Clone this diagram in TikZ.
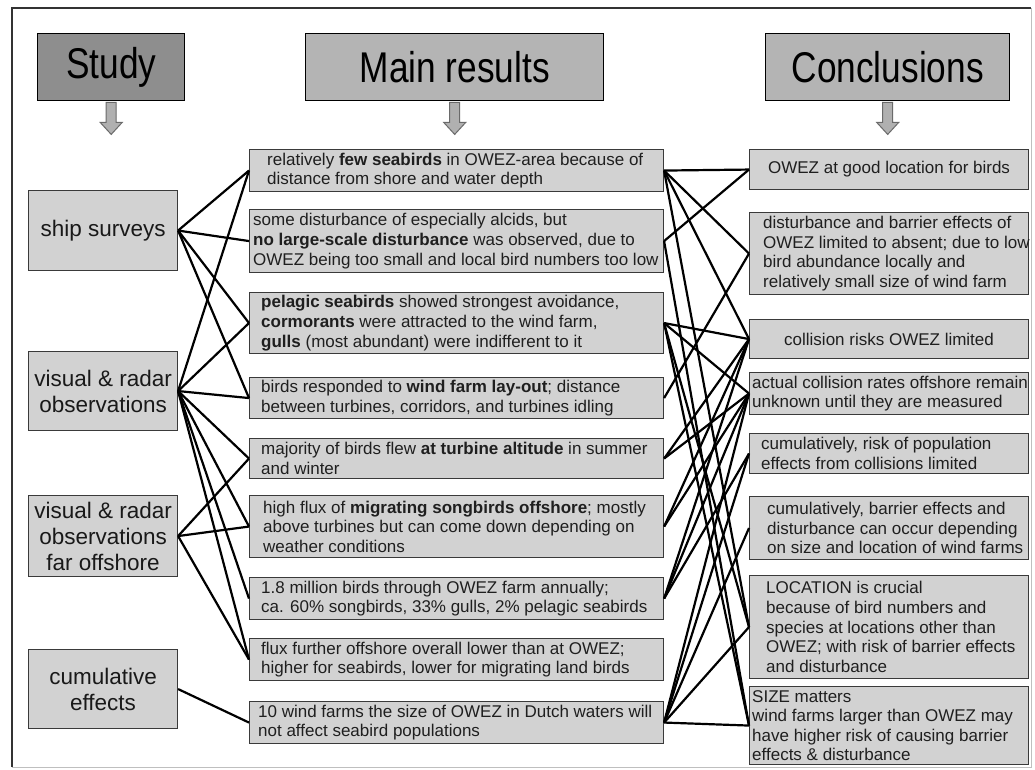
\documentclass[tikz,border=0pt]{standalone}
\usepackage{fontspec}
\usepackage{graphicx}
\setmainfont{Liberation Sans}
\definecolor{boxfill}{HTML}{D2D2D2}
\definecolor{boxline}{HTML}{3A3A3A}
\definecolor{hdark}{HTML}{8E8E8E}
\definecolor{hlight}{HTML}{B4B4B4}
\definecolor{arrfill}{HTML}{B0B0B0}
\definecolor{arrline}{HTML}{6A6A6A}
\begin{document}
\begin{tikzpicture}[x=1pt,y=-1pt,
  box/.style={draw=boxline, fill=boxfill, line width=1.1pt, inner sep=0pt, anchor=north west},
  hbox/.style={draw=black, line width=1.4pt, inner sep=0pt, anchor=north west},
  htxt/.style={inner sep=0pt, font=\fontsize{43}{48}\selectfont, text=black},
  ltxt/.style={inner sep=0pt, align=center, font=\fontsize{22.5}{26}\selectfont, text=black!90},
  mtxt/.style={inner sep=0pt, anchor=west, align=left, font=\fontsize{17}{19.6}\selectfont, text=black!88},
  ctxt/.style={inner sep=0pt, align=center, font=\fontsize{17}{19.6}\selectfont, text=black!88},
  link/.style={draw=black, line width=2.2pt},
  garrow/.style={draw=arrline, fill=arrfill, line width=1pt, line join=miter}
]
\useasboundingbox (0,0) rectangle (1035,769);
\fill[white] (0,0) rectangle (1035,769);
% frame
\draw[black!80, line width=1.5pt] (12,767) -- (12,8) -- (1031,8);
\draw[black!25, line width=1pt] (1031,8) -- (1031,767) -- (12,767);

% headers
\node[hbox, fill=hdark, minimum width=147pt, minimum height=67pt] (H1) at (37,33) {};
\node[hbox, fill=hlight, minimum width=298pt, minimum height=67pt] (H2) at (305,33) {};
\node[hbox, fill=hlight, minimum width=244pt, minimum height=67pt] (H3) at (765,33) {};
\node[htxt] (H1t) at (H1.center) {\scalebox{0.82}[1]{Study}};
\node[htxt] (H2t) at (H2.center) {\scalebox{0.82}[1]{Main results}};
\node[htxt] (H3t) at (H3.center) {\scalebox{0.82}[1]{Conclusions}};
\foreach \h in {H1,H2,H3}{
  \draw[garrow] (\h.south) ++(-5,1) -- ++(0,20) -- ++(-6,0) -- ++(11,12) -- ++(11,-12) -- ++(-6,0) -- ++(0,-20) -- cycle;
}

% left column
\node[box, minimum width=149pt, minimum height=80pt] (L1) at (28,190) {};
\node[box, minimum width=149pt, minimum height=79pt] (L2) at (28,351) {};
\node[box, minimum width=149pt, minimum height=81pt] (L3) at (28,495) {};
\node[box, minimum width=149pt, minimum height=79pt] (L4) at (28,649) {};
\node[ltxt] (L1t) at (L1.center) {ship surveys};
\node[ltxt] (L2t) at (L2.center) {visual \& radar\\observations};
\node[ltxt] (L3t) at (L3.center) {visual \& radar\\observations\\far offshore};
\node[ltxt] (L4t) at (L4.center) {cumulative\\effects};

% middle column
\node[box, minimum width=414pt, minimum height=42pt] (M1) at (249,149) {};
\node[box, minimum width=414pt, minimum height=63pt] (M2) at (249,209) {};
\node[box, minimum width=414pt, minimum height=61pt] (M3) at (249,292) {};
\node[box, minimum width=414pt, minimum height=41pt] (M4) at (249,377) {};
\node[box, minimum width=414pt, minimum height=40pt] (M5) at (249,438) {};
\node[box, minimum width=414pt, minimum height=62pt] (M6) at (249,495) {};
\node[box, minimum width=414pt, minimum height=42pt] (M7) at (249,577) {};
\node[box, minimum width=414pt, minimum height=42pt] (M8) at (249,638) {};
\node[box, minimum width=414pt, minimum height=42pt] (M9) at (249,701) {};
\node[mtxt] (M1t) at ([xshift=18pt]M1.west) {relatively \textbf{few seabirds} in OWEZ-area because of\\distance from shore and water depth};
\node[mtxt] (M2t) at ([xshift=4pt]M2.west) {some disturbance of especially alcids, but\\\textbf{no large-scale disturbance} was observed, due to\\OWEZ being too small and local bird numbers too low};
\node[mtxt] (M3t) at ([xshift=12pt]M3.west) {\textbf{pelagic seabirds} showed strongest avoidance,\\\textbf{cormorants} were attracted to the wind farm,\\\textbf{gulls} (most abundant) were indifferent to it};
\node[mtxt] (M4t) at ([xshift=12pt]M4.west) {birds responded to \textbf{wind farm lay-out}; distance\\between turbines, corridors, and turbines idling};
\node[mtxt] (M5t) at ([xshift=12pt]M5.west) {majority of birds flew \textbf{at turbine altitude} in summer\\and winter};
\node[mtxt] (M6t) at ([xshift=14pt]M6.west) {high flux of \textbf{migrating songbirds offshore}; mostly\\above turbines but can come down depending on\\weather conditions};
\node[mtxt] (M7t) at ([xshift=12pt]M7.west) {1.8 million birds through OWEZ farm annually;\\ca. 60\% songbirds, 33\% gulls, 2\% pelagic seabirds};
\node[mtxt] (M8t) at ([xshift=12pt]M8.west) {flux further offshore overall lower than at OWEZ;\\higher for seabirds, lower for migrating land birds};
\node[mtxt] (M9t) at ([xshift=9pt]M9.west) {10 wind farms the size of OWEZ in Dutch waters will\\not affect seabird populations};

% right column
\node[box, minimum width=279pt, minimum height=40pt] (R1) at (749,149) {};
\node[box, minimum width=279pt, minimum height=82pt] (R2) at (749,212) {};
\node[box, minimum width=279pt, minimum height=39pt] (R3) at (749,319) {};
\node[box, minimum width=279pt, minimum height=42pt] (R4) at (749,372) {};
\node[box, minimum width=279pt, minimum height=40pt] (R5) at (749,433) {};
\node[box, minimum width=279pt, minimum height=63pt] (R6) at (749,496) {};
\node[box, minimum width=279pt, minimum height=103pt] (R7) at (749,575) {};
\node[box, minimum width=279pt, minimum height=78pt] (R8) at (749,686) {};
\node[ctxt] (R1t) at (R1.center) {OWEZ at good location for birds};
\node[mtxt] (R2t) at ([xshift=14pt]R2.west) {disturbance and barrier effects of\\OWEZ limited to absent; due to low\\bird abundance locally and\\relatively small size of wind farm};
\node[ctxt] (R3t) at (R3.center) {collision risks OWEZ limited};
\node[mtxt] (R4t) at ([xshift=3pt]R4.west) {actual collision rates offshore remain\\unknown until they are measured};
\node[mtxt] (R5t) at ([xshift=12pt]R5.west) {cumulatively, risk of population\\effects from collisions limited};
\node[mtxt] (R6t) at ([xshift=18pt]R6.west) {cumulatively, barrier effects and\\disturbance can occur depending\\on size and location of wind farms};
\node[mtxt] (R7t) at ([xshift=17pt]R7.west) {LOCATION is crucial\\because of bird numbers and\\species at locations other than\\OWEZ; with risk of barrier effects\\and disturbance};
\node[mtxt] (R8t) at ([xshift=3pt]R8.west) {SIZE matters\\wind farms larger than OWEZ may\\have higher risk of causing barrier\\effects \& disturbance};

% study -> results
\foreach \m in {M1,M2,M3,M4}{\draw[link] (L1.east) -- (\m.west);}
\foreach \m in {M1,M3,M4,M5,M6,M7,M8}{\draw[link] (L2.east) -- (\m.west);}
\foreach \m in {M5,M6,M8}{\draw[link] (L3.east) -- (\m.west);}
\draw[link] (L4.east) -- (M9.west);

% results -> conclusions
\foreach \r in {R1,R2,R3,R7}{\draw[link] (M1.east) -- (\r.west);}
\foreach \r in {R1,R8}{\draw[link] (M2.east) -- (\r.west);}
\foreach \r in {R3,R4,R7,R8}{\draw[link] (M3.east) -- (\r.west);}
\draw[link] (M4.east) -- (R2.west);
\foreach \r in {R3,R4}{\draw[link] (M5.east) -- (\r.west);}
\foreach \r in {R3,R4}{\draw[link] (M6.east) -- (\r.west);}
\foreach \r in {R3,R4,R5}{\draw[link] (M7.east) -- (\r.west);}
\foreach \r in {R4,R5,R6,R7,R8}{\draw[link] (M9.east) -- (\r.west);}
\end{tikzpicture}
\end{document}
